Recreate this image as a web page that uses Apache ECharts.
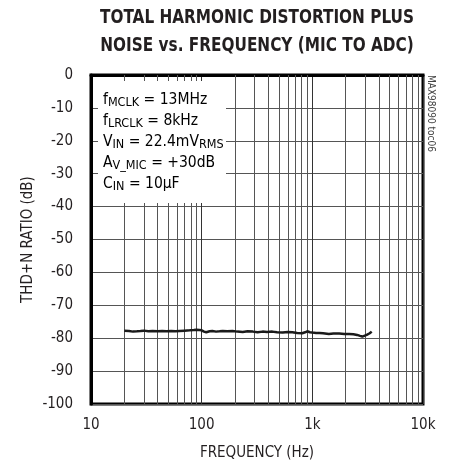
<!DOCTYPE html>
<html>
<head>
<meta charset="utf-8">
<script src="https://cdn.jsdelivr.net/npm/echarts@6/dist/echarts.min.js"></script>
<style>
html,body{margin:0;padding:0;background:#fff;}
#c{width:450px;height:466px;}
</style>
</head>
<body>
<div id="c"></div>
<script>
// ---- data ----
const frequencyHz = [20,22,24,26,28,30,33,36,40,44,48,53,58,63,70,78,85,90,95,100,105,110,118,125,135,145,155,170,190,210,235,260,290,320,355,390,435,480,540,600,660,730,810,860,900,950,1000,1080,1160,1250,1410,1550,1750,1950,2150,2350,2540,2700,2830,2950,3100,3300,3440];
const thdnDb = [-77.7,-77.8,-78.0,-77.9,-77.8,-77.7,-77.9,-77.8,-77.9,-77.8,-77.9,-77.8,-77.9,-77.8,-77.7,-77.6,-77.5,-77.4,-77.5,-77.6,-78.0,-78.2,-77.9,-77.8,-78.0,-77.9,-77.8,-77.9,-77.8,-78.0,-78.1,-77.9,-78.0,-78.2,-78.0,-78.1,-78.0,-78.2,-78.3,-78.1,-78.2,-78.4,-78.5,-78.2,-77.9,-78.2,-78.3,-78.4,-78.4,-78.5,-78.7,-78.6,-78.6,-78.7,-78.7,-78.8,-79.0,-79.3,-79.5,-79.3,-79.0,-78.5,-78.0];
const minorGridFreqs = [20,30,40,50,60,70,80,90,200,300,400,500,600,700,800,900,2000,3000,4000,5000,6000,7000,8000,9000];
const xTickLabels = {10:'10',100:'100',1000:'1k',10000:'10k'};
const yMin = -100, yMax = 0, yStep = 10;
const titleLines = ['TOTAL HARMONIC DISTORTION PLUS','NOISE vs. FREQUENCY (MIC TO ADC)'];
const xAxisTitle = 'FREQUENCY (Hz)';
const yAxisTitle = 'THD+N RATIO (dB)';
const noteLines = [
  '{n|f}{s|MCLK}{n| = 13MHz}',
  '{n|f}{s|LRCLK}{n| = 8kHz}',
  '{n|V}{s|IN}{n| = 22.4mV}{s|RMS}',
  '{n|A}{s|V_MIC}{n| = +30dB}',
  '{n|C}{s|IN}{n| = 10µF}'
];
const partTag = 'MAX98090 toc06';

const FONT = "'Liberation Sans Narrow','DejaVu Sans Condensed','Liberation Sans',sans-serif";
const TXT = '#231f20';

const chart = echarts.init(document.getElementById('c'), null, {renderer:'canvas'});

const graphics = [];
titleLines.forEach((t,i)=>{
  graphics.push({type:'text', x:257, y:18+i*28, z:100, scaleX:0.85, scaleY:1,
    style:{text:t, fill:TXT, font:"bold 20px "+FONT, textAlign:'center', textVerticalAlign:'middle'}});
});
graphics.push({type:'rect', shape:{x:98,y:81,width:128,height:122}, z:90,
  style:{fill:'#fff'}});
noteLines.forEach((t,i)=>{
  graphics.push({type:'text', x:103, y:100+i*21, z:101,
    style:{text:t, textVerticalAlign:'middle', textAlign:'left',
      rich:{
        n:{fontFamily:FONT, fontSize:15.5, color:TXT, lineHeight:18, verticalAlign:'middle'},
        s:{fontFamily:FONT, fontSize:12.5, color:TXT, lineHeight:12, verticalAlign:'bottom', padding:[6,0,0,0]}
      }}});
});
graphics.push({type:'text', x:431, y:75, rotation:-Math.PI/2, z:101,
  style:{text:partTag, fill:'#444', font:"10px "+FONT, textAlign:'left', textVerticalAlign:'middle'}});

chart.setOption({
  animation:false,
  backgroundColor:'#fff',
  grid:{left:91,right:27,top:75,bottom:62,show:true,borderColor:'#000',borderWidth:3,backgroundColor:'transparent'},
  xAxis:[{
    type:'log', logBase:10, min:10, max:10000,
    name:xAxisTitle, nameLocation:'middle', nameGap:42,
    nameTextStyle:{fontFamily:FONT,fontSize:15,color:TXT},
    axisLine:{show:true,lineStyle:{color:'#000',width:3}},
    axisTick:{show:false},
    axisLabel:{fontFamily:FONT,fontSize:15,color:TXT,margin:14,formatter:v=>xTickLabels[Math.round(v)]||''},
    splitLine:{show:true,lineStyle:{color:'#333',width:1}},
    minorTick:{show:false}, minorSplitLine:{show:false}
  }],
  yAxis:[{
    type:'value', min:yMin, max:yMax, interval:yStep,
    name:yAxisTitle, nameLocation:'middle', nameGap:55, nameRotate:90,
    nameMoveOverlap:false,
    nameTextStyle:{fontFamily:FONT,fontSize:15,color:TXT},
    axisLine:{show:true,lineStyle:{color:'#000',width:3}},
    axisTick:{show:false},
    axisLabel:{fontFamily:FONT,fontSize:15,color:TXT,margin:18},
    splitLine:{show:true,lineStyle:{color:'#555',width:1}}
  }],
  series:[{
    type:'line',
    data:frequencyHz.map((f,i)=>[f,thdnDb[i]]),
    showSymbol:false,
    lineStyle:{color:'#1a1a1a',width:2.5},
    z:5,
    markLine:{
      silent:true, symbol:'none', label:{show:false}, animation:false,
      lineStyle:{color:'#555',width:1,type:'solid'},
      emphasis:{disabled:true},
      data:minorGridFreqs.map(f=>({xAxis:f}))
    }
  }],
  graphic:graphics
});
</script>
</body>
</html>
